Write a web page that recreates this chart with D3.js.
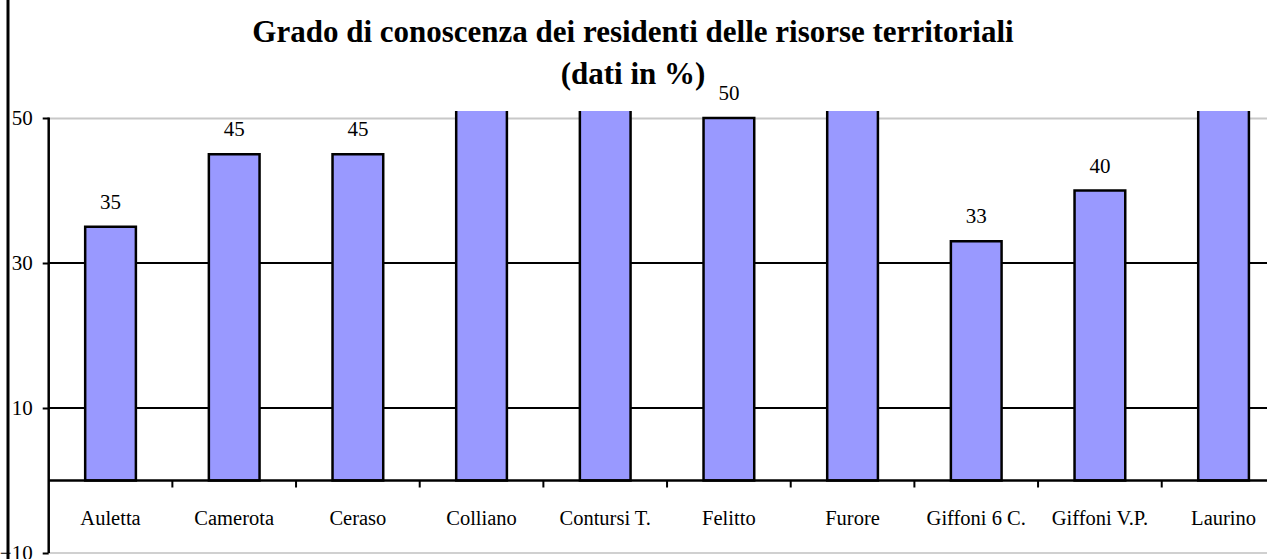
<!doctype html>
<html>
<head>
	<meta charset="UTF-8" />
	<script src="https://cdn.jsdelivr.net/npm/d3@7"></script>
	<style>
		html, body { margin: 0; padding: 0; background: #fff; overflow: hidden; }
		text { font-family: "Liberation Serif", "Times New Roman", serif; fill: #000; }
	</style>
</head>
<body>
	<svg id="chart" width="1267" height="559"></svg>
	<script>
		"use strict";

		// data (values above 50 are cut off in the original)
		const comuni = ["Auletta", "Camerota", "Ceraso", "Colliano", "Contursi T.", "Felitto", "Furore", "Giffoni 6 C.", "Giffoni V.P.", "Laurino"];
		const valori = [35, 45, 45, 60, 65, 50, 55, 33, 40, 60];
		const yTicks = [50, 30, 10, -10];
		const titolo = ["Grado di conoscenza dei residenti delle risorse territoriali", "(dati in %)"];

		const svg = d3.select("#chart");
		const plot = { left: 48.7, right: 1285.4, top: 118, bottom: 553 };

		const x = d3.scaleBand()
			.domain(comuni)
			.range([plot.left, plot.right])
			.paddingInner(0.59)
			.paddingOuter(0.295);

		const y = d3.scaleLinear()
			.domain([-10, 50])
			.range([plot.bottom, plot.top]);

		// title
		svg.append("g").selectAll("text")
			.data(titolo)
			.enter().append("text")
			.attr("x", 633)
			.attr("y", (d, i) => 42 + i * 42)
			.attr("text-anchor", "middle")
			.style("font-size", "31px")
			.style("font-weight", "bold")
			.text(d => d);

		// plot area outline (light)
		svg.append("line")
			.attr("x1", plot.left).attr("x2", 1267)
			.attr("y1", plot.top + 0.5).attr("y2", plot.top + 0.5)
			.attr("stroke", "#c8c8c8").attr("stroke-width", 2);
		svg.append("line")
			.attr("x1", plot.left).attr("x2", 1267)
			.attr("y1", plot.bottom).attr("y2", plot.bottom)
			.attr("stroke", "#d0d0d0").attr("stroke-width", 2);

		// gridlines at 30 and 10
		svg.append("g").selectAll("line")
			.data([30, 10])
			.enter().append("line")
			.attr("x1", plot.left).attr("x2", 1267)
			.attr("y1", d => y(d)).attr("y2", d => y(d))
			.attr("stroke", "#000").attr("stroke-width", 2);

		// bars, clipped a little above the plot top like the original
		svg.append("clipPath").attr("id", "clip")
			.append("rect")
			.attr("x", 0).attr("y", 111)
			.attr("width", 1300).attr("height", 500);

		svg.append("g").attr("clip-path", "url(#clip)")
			.selectAll("rect")
			.data(comuni)
			.enter().append("rect")
			.attr("x", d => x(d))
			.attr("width", x.bandwidth())
			.attr("y", (d, i) => y(valori[i]))
			.attr("height", (d, i) => y(0) - y(valori[i]))
			.attr("fill", "#9999ff")
			.attr("stroke", "#000")
			.attr("stroke-width", 2.5);

		// value labels (only where visible)
		svg.append("g").selectAll("text")
			.data(comuni.filter((d, i) => valori[i] <= 50))
			.enter().append("text")
			.attr("x", d => x(d) + x.bandwidth() / 2)
			.attr("y", d => y(valori[comuni.indexOf(d)]) - 18)
			.attr("text-anchor", "middle")
			.style("font-size", "21px")
			.text(d => valori[comuni.indexOf(d)]);

		// x axis at zero
		const xAxis = svg.append("g").attr("transform", "translate(0," + y(0) + ")");
		xAxis.append("line")
			.attr("x1", plot.left).attr("x2", 1267)
			.attr("stroke", "#000").attr("stroke-width", 2.5);
		xAxis.selectAll(".tick")
			.data(d3.range(1, comuni.length))
			.enter().append("line")
			.attr("x1", i => plot.left + x.step() * i).attr("x2", i => plot.left + x.step() * i)
			.attr("y1", 0).attr("y2", 7)
			.attr("stroke", "#000").attr("stroke-width", 2);
		xAxis.selectAll("text")
			.data(comuni)
			.enter().append("text")
			.attr("x", d => x(d) + x.bandwidth() / 2)
			.attr("y", 44)
			.attr("text-anchor", "middle")
			.style("font-size", "20.5px")
			.text(d => d);

		// y axis
		const yAxis = svg.append("g").attr("transform", "translate(" + plot.left + ",0)")
			.call(d3.axisLeft(y).tickValues(yTicks).tickSize(6).tickPadding(10).tickFormat(d3.format("d")));
		yAxis.select(".domain").attr("stroke", "#000").attr("stroke-width", 2.5)
			.attr("d", "M0," + (plot.top - 0.5) + "V" + plot.bottom);
		yAxis.selectAll(".tick line").attr("stroke", "#000").attr("stroke-width", 2);
		yAxis.selectAll(".tick text")
			.attr("font-family", null)
			.attr("font-size", null)
			.style("font-size", "21px")
			.attr("fill", "#000");

		// chart border on the left
		svg.append("line")
			.attr("x1", 8).attr("x2", 8)
			.attr("y1", 0).attr("y2", 559)
			.attr("stroke", "#000").attr("stroke-width", 3);
	</script>
</body>
</html>
